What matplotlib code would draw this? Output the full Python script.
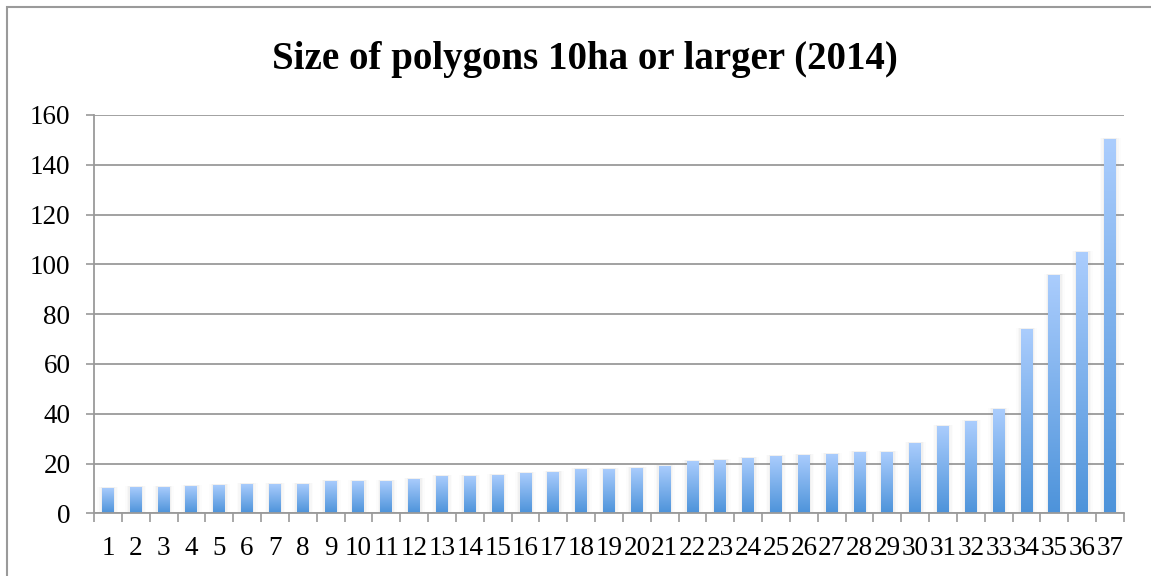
import matplotlib
matplotlib.use("Agg")
import matplotlib.pyplot as plt
import numpy as np
from matplotlib.colors import LinearSegmentedColormap
from matplotlib.patches import Rectangle

categories = [str(i) for i in range(1, 38)]
values = [10.2, 10.6, 10.6, 11.0, 11.4, 11.8, 11.8, 11.8, 13.0, 13.0, 13.0, 13.8,
          15.0, 15.0, 15.4, 16.2, 16.6, 17.8, 17.8, 18.3, 19.1, 21.1, 21.5, 22.3,
          23.1, 23.5, 23.9, 24.6, 24.5, 28.4, 35.2, 36.9, 41.7, 74.2, 95.9, 104.8, 150.2]
y_ticks = [0, 20, 40, 60, 80, 100, 120, 140, 160]
title = "Size of polygons 10ha or larger (2014)"

serif = ["Liberation Serif", "DejaVu Serif"]
W, H = 1151, 576
fig = plt.figure(figsize=(W / 100, H / 100), dpi=100)
fig.patch.set_facecolor("white")

# outer frame (right/bottom edges lie outside the image)
fig.patches.append(Rectangle((7 / W, -0.05), 1.2, 1 - 7 / H + 0.05, transform=fig.transFigure,
                             fill=False, edgecolor="#9a9a9a", linewidth=1.5))

ax = fig.add_axes([94 / W, 1 - 513.3 / H, (1124 - 94) / W, (513.3 - 115) / H])
x = np.arange(len(categories))
cmap = LinearSegmentedColormap.from_list("g", ["#4d93da", "#abcdfd"])
grad = np.linspace(0, 1, 256).reshape(-1, 1)
bw = 0.43
bars = ax.bar(x, values, width=bw, color="none", edgecolor="none", zorder=3)
for b in bars:
    x0, w, h = b.get_x(), b.get_width(), b.get_height()
    # soft shadow
    for k, a in [(0.16, 0.025), (0.10, 0.04), (0.05, 0.05)]:
        ax.add_patch(Rectangle((x0 - k, 0), w + 2 * k, h + 0.4, facecolor="#808080",
                               alpha=a, edgecolor="none", zorder=2))
    im = ax.imshow(grad, extent=(x0, x0 + w, 0, h), origin="lower", cmap=cmap,
                   aspect="auto", zorder=3)
    im.set_clip_path(b)

ax.set_xlim(-0.5, len(categories) - 0.5)
ax.set_ylim(0, 160)
ax.set_yticks(y_ticks)
ax.set_yticklabels([str(t) for t in y_ticks], fontfamily=serif, fontsize=19.5)
ax.set_xticks(x)
ax.set_xticklabels(categories, fontfamily=serif, fontsize=19.5)
ax.set_xticks(np.arange(len(categories) + 1) - 0.5, minor=True)
ax.tick_params(axis="x", which="major", length=0, pad=16)
ax.tick_params(axis="x", which="minor", length=6.5, width=1.2, color="#9a9a9a", direction="out")
ax.tick_params(axis="y", length=6, width=1.2, color="#9a9a9a", direction="out", pad=11)
ax.grid(axis="y", color="#9a9a9a", linewidth=1.3, zorder=1)
ax.set_axisbelow(True)
for s in ["top", "right"]:
    ax.spines[s].set_visible(False)
for s in ["left", "bottom"]:
    ax.spines[s].set_color("#9a9a9a")
    ax.spines[s].set_linewidth(1.3)
    ax.spines[s].set_zorder(4)

fig.text(585 / W, 1 - 69 / H, title, ha="center", va="baseline", fontfamily=serif,
         fontweight="bold", fontsize=28)

fig.savefig("out.png", dpi=100, facecolor="white")
